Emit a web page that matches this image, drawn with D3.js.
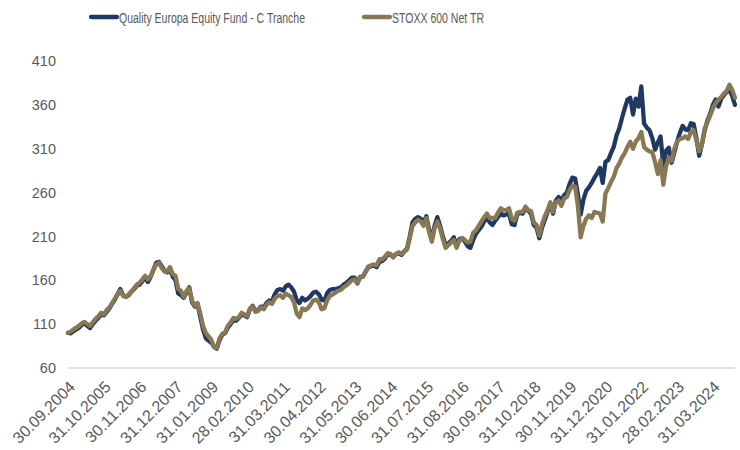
<!DOCTYPE html>
<html>
<head>
<meta charset="utf-8">
<script src="https://cdn.jsdelivr.net/npm/d3@7"></script>
<style>
  body { margin: 0; background: #fff; }
  text { font-family: "Liberation Sans", Arial, sans-serif; fill: #595959; }
</style>
</head>
<body>
<svg id="chart" width="740" height="450"></svg>
<script>
/**
 * Data: month-end values, 30.09.2004 .. 30.11.2024, rebased to 100.
 */
const startMonth = '2004-09';
const seriesNames = ['Quality Europa Equity Fund - C Tranche', 'STOXX 600 Net TR'];

const fundValues = [
    100, 99.5, 102, 104,                                          // 2004
    106, 109, 111, 108, 105.5, 110, 114, 117, 121, 120, 124, 128, // 2005
    133, 138, 144, 150, 143, 141, 143, 147, 150, 154, 155, 159,   // 2006
    163, 158, 164, 172, 180, 181, 176, 171, 169, 173, 164, 160,   // 2007
    145, 143, 140, 146, 152, 135, 130, 133, 118, 104, 94, 91,     // 2008
    89, 84, 82, 92, 98, 100, 106, 110, 115, 114, 117, 121,        // 2009
    120, 118, 127, 131, 125, 126, 130, 129, 134, 137, 136, 144,   // 2010
    149, 150, 148, 153, 155, 152, 147, 137, 134, 140, 137, 139,   // 2011
    142, 146, 147, 144, 138, 137, 145, 149, 150, 150, 151, 152,   // 2012
    155, 157, 160, 163, 163, 157, 164, 164, 170, 175, 176, 177,   // 2013
    175, 181, 182, 185, 190, 189, 187, 190, 191, 189, 193, 196,   // 2014
    210, 226, 230, 232, 230, 226, 233, 218, 206, 222, 232, 222,   // 2015
    210, 200, 202, 205, 209, 199, 207, 208, 204, 199, 197, 206,   // 2016
    213, 217, 221, 227, 232, 226, 223, 228, 232, 236, 234, 235,   // 2017
    236, 224, 223, 235, 237, 236, 242, 239, 236, 223, 220, 208,   // 2018
    220, 229, 238, 248, 236, 251, 255, 251, 257, 260, 270, 277,   // 2019
    276, 258, 235, 252, 262, 266, 271, 277, 282, 288, 271, 295,   // 2020
    297, 305, 312, 325, 333, 345, 356, 366, 368, 349, 367, 358,   // 2021
    381, 339, 334, 331, 322, 309, 317, 324, 290, 308, 311, 294,   // 2022
    306, 318, 328, 336, 332, 331, 339, 338, 322, 302, 315, 331,   // 2023
    342, 350, 360, 366, 358, 367, 371, 375, 377, 370, 360         // 2024
];

const benchmarkValues = [
    100, 101.5, 104, 106,                                         // 2004
    108, 111, 112.5, 110, 108, 112, 116, 119, 123, 121, 126, 129, // 2005
    134, 139, 144, 148, 142, 141, 144, 147, 151, 155, 157, 161,   // 2006
    165, 161, 165, 172, 178, 180, 174, 170, 170, 175, 167, 165,   // 2007
    150, 148, 141, 148, 151, 137, 131, 134, 122, 108, 100, 96,    // 2008
    92, 84, 83, 94, 99, 101, 108, 112, 117, 116, 118, 123,        // 2009
    121, 119, 128, 130, 124, 125, 129, 127, 132, 135, 133, 139,   // 2010
    142, 143, 140, 145, 143, 141, 135, 122, 118, 128, 126, 128,   // 2011
    132, 137, 138, 135, 127, 128, 137, 142, 144, 146, 148, 149,   // 2012
    152, 154, 157, 160, 161, 156, 163, 164, 170, 176, 177, 178,   // 2013
    177, 184, 184, 187, 191, 190, 186, 190, 192, 190, 193, 195,   // 2014
    208, 222, 226, 229, 227, 222, 231, 215, 204, 219, 227, 219,   // 2015
    207, 197, 200, 203, 206, 197, 205, 208, 206, 203, 204, 214,   // 2016
    217, 222, 227, 232, 236, 231, 231, 231, 237, 242, 240, 240,   // 2017
    242, 230, 228, 237, 238, 238, 244, 240, 239, 226, 223, 211,   // 2018
    224, 233, 240, 249, 238, 249, 251, 245, 253, 255, 263, 268,   // 2019
    267, 245, 209, 222, 230, 234, 231, 238, 237, 236, 227, 259,   // 2020
    265, 272, 278, 288, 293, 300, 305, 312, 318, 310, 318, 322,   // 2021
    329, 312, 309, 307, 306, 295, 281, 297, 269, 290, 300, 296,   // 2022
    310, 318, 321, 322, 324, 321, 329, 331, 320, 307, 315, 333,   // 2023
    340, 348, 356, 362, 366, 369, 373, 376, 383, 377, 368         // 2024
];

const tickLabels = ['30.09.2004', '31.10.2005', '30.11.2006', '31.12.2007', '31.01.2009',
    '28.02.2010', '31.03.2011', '30.04.2012', '31.05.2013', '30.06.2014', '31.07.2015',
    '31.08.2016', '30.09.2017', '31.10.2018', '30.11.2019', '31.12.2020', '31.01.2022',
    '28.02.2023', '31.03.2024'];

const yTicks = [60, 110, 160, 210, 260, 310, 360, 410];

/**
 * Visual configs.
 */
const margin = { left: 68, right: 5, top: 61, bottom: 82 };
const visWidth = 740, visHeight = 450;
const colors = ['#1f3864', '#887853'];
const fmt = d3.utcFormat('%d.%m.%Y');

// Month-end category labels
const first = d3.utcParse('%Y-%m')(startMonth);
const categories = fundValues.map((_, i) => fmt(d3.utcDay.offset(d3.utcMonth.offset(first, i + 1), -1)));

const x = d3.scalePoint()
    .domain(categories)
    .range([margin.left, visWidth - margin.right]);

const y = d3.scaleLinear()
    .domain([60, 410])
    .range([visHeight - margin.bottom, margin.top]);

const svg = d3.select('#chart');

// Axis line
svg.append('line')
    .attr('x1', x.range()[0]).attr('x2', x.range()[1])
    .attr('y1', y(60)).attr('y2', y(60))
    .attr('stroke', '#d9d9d9').attr('stroke-width', 1.3);

// Y labels
svg.append('g').selectAll('text')
    .data(yTicks)
    .join('text')
    .attr('x', 56)
    .attr('y', d => y(d))
    .attr('dy', '0.35em')
    .attr('text-anchor', 'end')
    .style('font-size', '14.5px')
    .text(d => d);

// X labels
svg.append('g').selectAll('text')
    .data(tickLabels)
    .join('text')
    .attr('transform', d => 'translate(' + (x(d) + 4) + ',' + 384 + ') rotate(-45)')
    .attr('dy', '0.35em')
    .attr('text-anchor', 'end')
    .style('font-size', '16px')
    .text(d => d);

// Lines
const line = d3.line()
    .x((d, i) => x(categories[i]))
    .y(d => y(d));

[fundValues, benchmarkValues].forEach((values, k) => {
    svg.append('path')
        .datum(values)
        .attr('d', line)
        .attr('fill', 'none')
        .attr('stroke', colors[k])
        .attr('stroke-width', 4.3)
        .attr('stroke-linejoin', 'round')
        .attr('stroke-linecap', 'round');
});

// Legend
const legendItems = [
    { x: 91, textLength: 186 },
    { x: 364, textLength: 92 }
];
legendItems.forEach((item, k) => {
    const g = svg.append('g').attr('transform', 'translate(' + item.x + ',17)');
    g.append('line')
        .attr('x1', 0).attr('x2', 26)
        .attr('stroke', colors[k]).attr('stroke-width', 4.3)
        .attr('stroke-linecap', 'round');
    g.append('text')
        .attr('x', 28)
        .attr('dy', '0.36em')
        .attr('textLength', item.textLength)
        .attr('lengthAdjust', 'spacingAndGlyphs')
        .style('font-size', '15.5px')
        .text(seriesNames[k]);
});
</script>
</body>
</html>
